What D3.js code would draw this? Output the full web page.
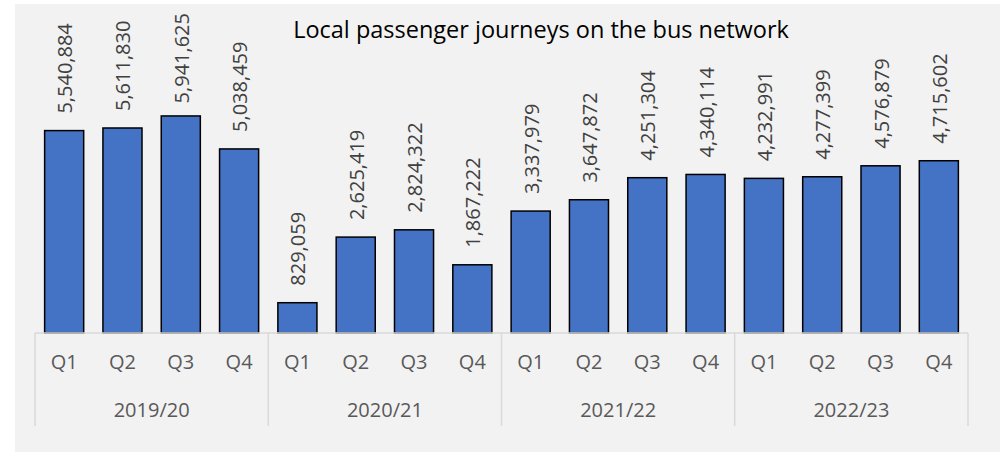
<!doctype html>
<html>
<head>
<meta charset="utf-8">
<script src="https://cdn.jsdelivr.net/npm/d3@7"></script>
<style>
  body { margin: 0; background: #fff; }
  svg { display: block; font-family: "Open Sans", sans-serif; }
</style>
</head>
<body>
<svg id="chart" width="1000" height="452"></svg>
<script>
  var years = ['2019/20', '2020/21', '2021/22', '2022/23'];
  var quarters = ['Q1', 'Q2', 'Q3', 'Q4'];
  var journeys = [
    5540884, 5611830, 5941625, 5038459,
    829059, 2625419, 2824322, 1867222,
    3337979, 3647872, 4251304, 4340114,
    4232991, 4277399, 4576879, 4715602
  ];
  var title = 'Local passenger journeys on the bus network';

  var svg = d3.select('#chart');

  // chart area background
  svg.append('rect')
    .attr('x', 15).attr('y', 4)
    .attr('width', 985).attr('height', 448)
    .attr('fill', '#f2f2f2');

  var left = 35, right = 968, base = 333;

  var keys = [];
  years.forEach(function (y) {
    quarters.forEach(function (q) { keys.push(y + ' ' + q); });
  });

  var x = d3.scaleBand()
    .domain(keys)
    .range([left, right])
    .paddingInner(0.33)
    .paddingOuter(0.165);

  var y = d3.scaleLinear()
    .domain([0, 7000000])
    .range([base, base - 7 * 36.53]);

  var bars = svg.append('g');
  bars.selectAll('rect')
    .data(journeys)
    .join('rect')
    .attr('x', function (d, i) { return x(keys[i]); })
    .attr('y', function (d) { return y(d); })
    .attr('width', x.bandwidth())
    .attr('height', function (d) { return base - y(d); })
    .attr('fill', '#4472c4')
    .attr('stroke', '#000')
    .attr('stroke-width', 1.5);

  var fmt = d3.format(',');
  bars.selectAll('text')
    .data(journeys)
    .join('text')
    .attr('fill', '#404040')
    .attr('font-size', 20)
    .text(function (d) { return fmt(d); })
    .attr('transform', function (d, i) {
      // labels that would run off the top get pushed down, like the original
      var len = this.getComputedTextLength();
      var start = Math.max(y(d) - 17, 13 + len);
      return 'translate(' + (x(keys[i]) + x.bandwidth() / 2 + 8) + ',' + start + ') rotate(-90)';
    });

  // axis line
  svg.append('line')
    .attr('x1', left).attr('x2', right)
    .attr('y1', base).attr('y2', base)
    .attr('stroke', '#d9d9d9').attr('stroke-width', 1.5);

  // quarter labels
  svg.append('g').selectAll('text')
    .data(keys)
    .join('text')
    .attr('x', function (d) { return x(d) + x.bandwidth() / 2; })
    .attr('y', 369)
    .attr('text-anchor', 'middle')
    .attr('fill', '#595959')
    .attr('font-size', 20)
    .text(function (d) { return d.split(' ')[1]; });

  // year group separators and labels
  var step = (right - left) / years.length;
  svg.append('g').selectAll('line')
    .data(d3.range(years.length + 1))
    .join('line')
    .attr('x1', function (i) { return left + i * step; })
    .attr('x2', function (i) { return left + i * step; })
    .attr('y1', base).attr('y2', 426)
    .attr('stroke', '#d9d9d9').attr('stroke-width', 1.5);

  svg.append('g').selectAll('text')
    .data(years)
    .join('text')
    .attr('x', function (d, i) { return left + (i + 0.5) * step; })
    .attr('y', 417)
    .attr('text-anchor', 'middle')
    .attr('fill', '#595959')
    .attr('font-size', 20)
    .text(function (d) { return d; });

  svg.append('text')
    .attr('x', 541).attr('y', 38)
    .attr('text-anchor', 'middle')
    .attr('fill', '#000')
    .attr('font-size', 23.5)
    .text(title);
</script>
</body>
</html>
